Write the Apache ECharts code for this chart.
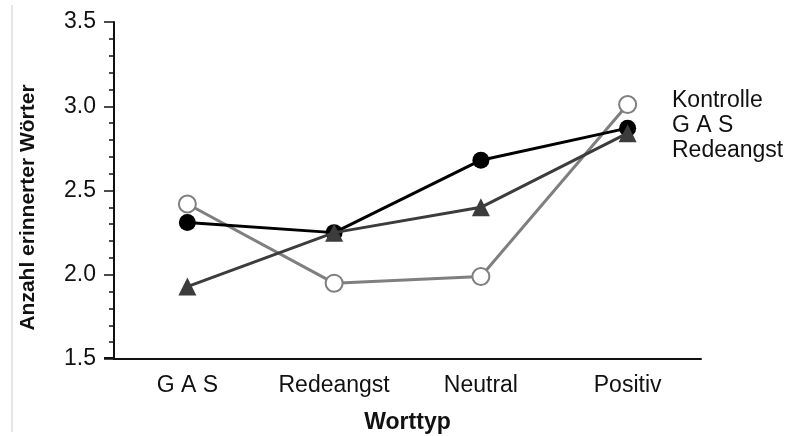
<!DOCTYPE html>
<html lang="de">
<head>
    <meta charset="UTF-8">
    <title>Worttyp</title>
    <script src="https://cdn.jsdelivr.net/npm/echarts@6/dist/echarts.min.js"></script>
    <style>
        html, body { margin: 0; padding: 0; background: #fff; }
        #main { width: 794px; height: 436px; }
    </style>
</head>
<body>
<div id="main"></div>
<script>
    // Daten
    var categories = ['G A S', 'Redeangst', 'Neutral', 'Positiv'];
    var seriesNames = ['Kontrolle', 'G A S', 'Redeangst'];
    var kontrolle = [2.42, 1.95, 1.99, 3.01];
    var gas = [2.31, 2.25, 2.68, 2.87];
    var redeangst = [1.93, 2.25, 2.40, 2.84];

    var font = '"Liberation Sans", Arial, Helvetica, sans-serif';
    var myChart = echarts.init(document.getElementById('main'));

    var option = {
        backgroundColor: '#fff',
        animation: false,
        grid: {
            left: 114,
            right: 93,
            top: 22,
            bottom: 77,
            outerBoundsMode: 'none'
        },
        legend: {
            data: seriesNames,
            orient: 'vertical',
            left: 661,
            top: 83,
            itemWidth: 0,
            itemHeight: 0,
            itemGap: 0,
            selectedMode: false,
            textStyle: {
                fontFamily: font,
                fontSize: 23,
                color: '#111',
                lineHeight: 25
            }
        },
        graphic: [{
            type: 'line',
            shape: { x1: 12, y1: 5, x2: 12, y2: 432 },
            style: { stroke: '#e6e6e6', lineWidth: 2 },
            silent: true
        }, {
            // kurzer Überstand der x-Achse links
            type: 'line',
            shape: { x1: 104, y1: 358, x2: 115, y2: 358 },
            style: { stroke: '#111', lineWidth: 2 },
            silent: true
        }],
        xAxis: {
            type: 'category',
            data: categories,
            boundaryGap: true,
            name: 'Worttyp',
            nameLocation: 'middle',
            nameGap: 52,
            nameTextStyle: {
                fontFamily: font,
                fontWeight: 'bold',
                fontSize: 23,
                color: '#111'
            },
            axisLine: { lineStyle: { color: '#111', width: 2 } },
            axisTick: { alignWithLabel: true, length: 6, lineStyle: { color: '#111', width: 2 } },
            axisLabel: {
                margin: 15,
                fontFamily: font,
                fontSize: 23,
                color: '#111'
            },
            splitLine: { show: false }
        },
        yAxis: {
            type: 'value',
            min: 1.5,
            max: 3.5,
            interval: 0.5,
            name: 'Anzahl erinnerter Wörter',
            nameLocation: 'middle',
            nameGap: 75,
            nameRotate: 90,
            nameTextStyle: {
                fontFamily: font,
                fontWeight: 'bold',
                fontSize: 21,
                color: '#111',
                padding: [0, 34, 0, 0]
            },
            axisLine: { show: true, lineStyle: { color: '#111', width: 2 } },
            axisTick: { show: true, length: 10, lineStyle: { color: '#111', width: 1.5 } },
            minorTick: { show: true, splitNumber: 5, length: 5, lineStyle: { color: '#111', width: 1.5 } },
            axisLabel: {
                margin: 18,
                fontFamily: font,
                fontSize: 23,
                color: '#111',
                formatter: function (v) { return v.toFixed(1); }
            },
            splitLine: { show: false }
        },
        series: [{
            name: 'Kontrolle',
            type: 'line',
            data: kontrolle,
            symbol: 'circle',
            symbolSize: 17,
            lineStyle: { color: '#7f7f7f', width: 3 },
            itemStyle: { color: '#fff', borderColor: '#7f7f7f', borderWidth: 2 },
            z: 2
        }, {
            name: 'G A S',
            type: 'line',
            data: gas,
            symbol: 'circle',
            symbolSize: 17,
            lineStyle: { color: '#000', width: 3 },
            itemStyle: { color: '#000' },
            z: 3
        }, {
            name: 'Redeangst',
            type: 'line',
            data: redeangst,
            symbol: 'triangle',
            symbolSize: 18,
            lineStyle: { color: '#3c3c3c', width: 3 },
            itemStyle: { color: '#3c3c3c' },
            z: 4
        }]
    };

    myChart.setOption(option);
</script>
</body>
</html>
